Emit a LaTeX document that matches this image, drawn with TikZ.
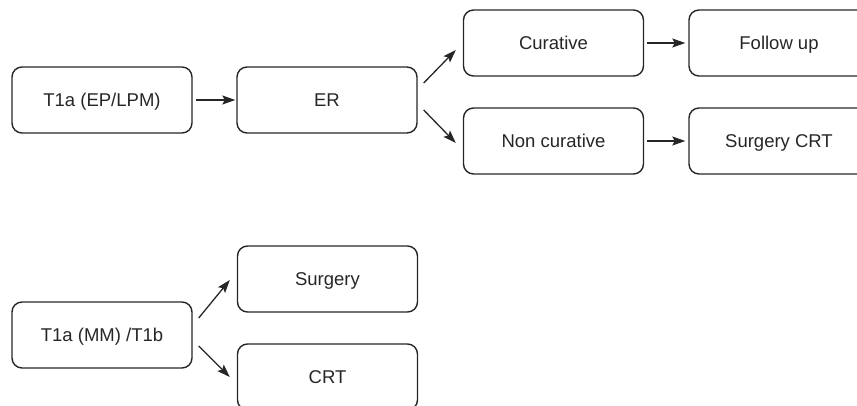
\documentclass[tikz,border=0pt]{standalone}
\usepackage{fontspec}
\setmainfont{Liberation Sans}
\usetikzlibrary{arrows.meta}
\begin{document}
\begin{tikzpicture}[x=1pt,y=-1pt,box/.style={draw=black!85,line width=1.4pt,
    rounded corners=10pt,minimum width=180pt,minimum height=66pt,
    text height=13.3pt,text depth=0pt,
    text=black!85,font=\fontsize{18.5}{22}\selectfont},
    arj/.style={line width=1.3pt,draw=black!85,
    -{Stealth[length=13pt,width=9pt,inset=2.5pt]}}]
  \useasboundingbox (0,0) rectangle (857,406);
  \node[box] (t1a) at (102,100) {T1a (EP/LPM)};
  \node[box] (er) at (327,100) {ER};
  \node[box] (cur) at (553.5,43) {Curative};
  \node[box] (non) at (553.5,141) {Non curative};
  \node[box] (fol) at (779,43) {Follow up};
  \node[box] (scrt) at (779,141) {Surgery CRT};
  \node[box] (t1b) at (102,335) {T1a (MM) /T1b};
  \node[box] (sur) at (327.5,279) {Surgery};
  \node[box] (crt) at (327.5,377) {CRT};
  \draw[arj,shorten <=3pt,shorten >=1pt] (t1a) -- (er);
  \draw[arj] ([shift={(6,-17)}]er.east) -- ([shift={(-7,7)}]cur.west);
  \draw[arj] ([shift={(6,10)}]er.east) -- ([shift={(-7,2)}]non.west);
  \draw[arj,shorten <=3pt,shorten >=3pt] (cur) -- (fol);
  \draw[arj,shorten <=3pt,shorten >=3pt] (non) -- (scrt);
  \draw[arj] ([shift={(6,-17)}]t1b.east) -- ([shift={(-7,1)}]sur.west);
  \draw[arj] ([shift={(6,11)}]t1b.east) -- ([shift={(-7,0)}]crt.west);
\end{tikzpicture}
\end{document}
